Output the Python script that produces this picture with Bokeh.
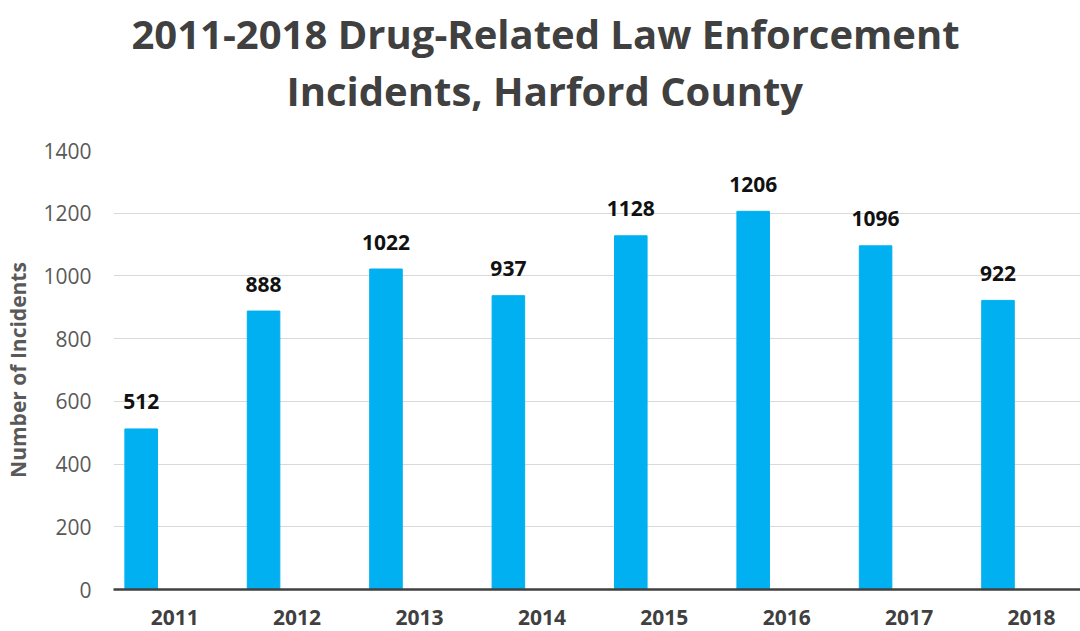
from bokeh.plotting import figure
from bokeh.models import ColumnDataSource, FixedTicker, Range1d, Title
from bokeh.embed import file_html
from bokeh.resources import INLINE
from bokeh.core.properties import value

# ---- data ----
years = ["2011", "2012", "2013", "2014", "2015", "2016", "2017", "2018"]
incidents = [512, 888, 1022, 937, 1128, 1206, 1096, 922]
y_ticks = [0, 200, 400, 600, 800, 1000, 1200, 1400]
title_lines = ["2011-2018 Drug-Related Law Enforcement", "Incidents, Harford County"]
y_title = "Number of Incidents"

FONT = "Open Sans"
BAR_COLOR = "#00B0F0"

idx = list(range(len(years)))
bar_shift = -0.274  # bars sit left of category centre (clustered layout)
src = ColumnDataSource(dict(
    x=[i + bar_shift for i in idx],
    top=incidents,
    label=[str(v) for v in incidents],
))

p = figure(width=1080, height=631, output_backend="svg", toolbar_location=None,
           x_range=Range1d(-0.5, 7.40), y_range=Range1d(0, 1400),
           min_border_left=113, min_border_right=0, min_border_top=150,
           min_border_bottom=42)
p.outline_line_color = None
p.background_fill_color = "white"
p.border_fill_color = "white"

p.vbar(x="x", top="top", bottom=0, width=0.266, source=src,
       fill_color=BAR_COLOR, line_color=BAR_COLOR)
p.text(x="x", y="top", text="label", source=src, y_offset=-27,
       text_align="center", text_baseline="middle",
       text_font=value(FONT), text_font_style="bold", text_font_size="21px",
       text_color="#111111")

# x axis
xa = p.xaxis[0]
xa.ticker = FixedTicker(ticks=idx)
xa.major_label_overrides = {i: y for i, y in zip(idx, years)}
xa.axis_line_color = "#404040"
xa.axis_line_width = 2.5
xa.major_tick_line_color = None
xa.minor_tick_line_color = None
xa.major_tick_out = 0
xa.major_label_standoff = 20
xa.major_label_text_font = FONT
xa.major_label_text_font_style = "bold"
xa.major_label_text_font_size = "21px"
xa.major_label_text_color = "#404040"

# y axis
ya = p.yaxis[0]
ya.ticker = FixedTicker(ticks=y_ticks)
ya.axis_line_color = None
ya.major_tick_line_color = None
ya.minor_tick_line_color = None
ya.major_tick_out = 0
ya.major_label_standoff = 22
ya.major_label_text_font = FONT
ya.major_label_text_font_size = "21px"
ya.major_label_text_color = "#595959"
ya.axis_label = y_title
ya.axis_label_text_font = FONT
ya.axis_label_text_font_style = "bold"
ya.axis_label_text_font_size = "21px"
ya.axis_label_text_color = "#595959"
ya.axis_label_standoff = 8

p.xgrid.grid_line_color = None
p.ygrid.grid_line_color = "#D9D9D9"
p.ygrid.grid_line_width = 1

# title: spacer + two lines, stacked outward from the frame
p.add_layout(Title(text=" ", text_font_size="1px", standoff=30), "above")
p.add_layout(Title(text=title_lines[1], align="left", offset=173, standoff=0,
                   text_font=FONT, text_font_style="bold", text_font_size="40px",
                   text_color="#404040"), "above")
p.add_layout(Title(text=title_lines[0], align="left", offset=18, standoff=0,
                   text_font=FONT, text_font_style="bold", text_font_size="40px",
                   text_color="#404040"), "above")

open("out.html", "w").write(file_html(p, INLINE))
